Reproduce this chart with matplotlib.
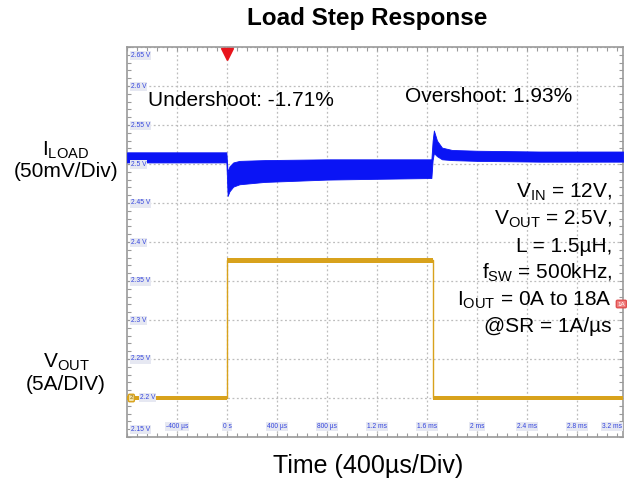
import matplotlib
matplotlib.use("Agg")
import matplotlib.pyplot as plt
from matplotlib.ticker import MultipleLocator

plt.rcParams['font.family'] = ['Liberation Sans', 'DejaVu Sans']
plt.rcParams['mathtext.fontset'] = 'custom'
plt.rcParams['mathtext.rm'] = 'Liberation Sans'
plt.rcParams['mathtext.it'] = 'Liberation Sans'

# ---- data (time in ms, voltage in V on the scope grid) ----
blue_t = [-0.80, -0.005, 0.005, 0.02, 0.05, 0.10, 0.30, 0.80, 1.20, 1.635,
          1.645, 1.655, 1.68, 1.72, 1.80, 2.00, 2.50, 3.17]
blue_hi = [2.515, 2.515, 2.490, 2.497, 2.502, 2.504, 2.505, 2.506, 2.506, 2.506,
           2.530, 2.543, 2.530, 2.521, 2.518, 2.517, 2.516, 2.516]
blue_lo = [2.502, 2.502, 2.459, 2.465, 2.471, 2.474, 2.477, 2.480, 2.481, 2.482,
           2.505, 2.514, 2.510, 2.506, 2.505, 2.504, 2.503, 2.503]

yel_t = [-0.80, 0.0, 0.0, 1.648, 1.648, 3.17]
yel_v = [2.200, 2.200, 2.377, 2.377, 2.200, 2.200]
yel_hi = [2.203, 2.203, 2.380, 2.380, 2.203, 2.203]
yel_lo = [2.198, 2.198, 2.373, 2.373, 2.198, 2.198]

ytick_vals = [2.65, 2.6, 2.55, 2.5, 2.45, 2.4, 2.35, 2.3, 2.25, 2.2, 2.15]
ytick_labels = ["2.65 V", "2.6 V", "2.55 V", "2.5 V", "2.45 V", "2.4 V",
                "2.35 V", "2.3 V", "2.25 V", "2.2 V", "2.15 V"]
xtick_vals = [-0.4, 0.0, 0.4, 0.8, 1.2, 1.6, 2.0, 2.4, 2.8, 3.2]
xtick_labels = ["-400 µs", "0 s", "400 µs", "800 µs", "1.2 ms", "1.6 ms",
                "2 ms", "2.4 ms", "2.8 ms", "3.2 ms"]

W, H = 627, 484
fig = plt.figure(figsize=(W / 100, H / 100), dpi=100)
L, R, T, B = 127, 623, 47, 437
ax = fig.add_axes([L / W, 1 - B / H, (R - L) / W, (B - T) / H])
ax.set_xlim(-0.8, 3.168)
ax.set_ylim(2.15, 2.65)

# grid
for xv in xtick_vals:
    ax.axvline(xv, color='#BDBDBD', lw=0.9, ls=(0, (1.5, 2)), zorder=0)
for yv in ytick_vals:
    ax.axhline(yv, color='#BDBDBD', lw=0.9, ls=(0, (1.5, 2)), zorder=0)

# traces
blue = '#0A14F5'
yellow = '#D8A21C'
ax.fill_between(blue_t, blue_lo, blue_hi, color=blue, lw=0.6, edgecolor=blue, zorder=3)
ax.fill_between(yel_t, yel_lo, yel_hi, color=yellow, lw=0, zorder=3)
ax.plot(yel_t, yel_v, color=yellow, lw=1.0, zorder=3)

# frame & minor ticks
for s in ax.spines.values():
    s.set_color('#9A9A9A')
    s.set_linewidth(1.2)
ax.set_xticks([])
ax.set_yticks([])
ax.xaxis.set_minor_locator(MultipleLocator(0.08))
ax.yaxis.set_minor_locator(MultipleLocator(0.01))
ax.tick_params(which='minor', direction='in', length=3, width=0.8, color='#9A9A9A',
               top=True, right=True, bottom=True, left=True)

# scope-style tick labels inside the plot
box = dict(boxstyle='square,pad=0.15', fc='#E6E8F2', ec='none')
for v, s in zip(ytick_vals, ytick_labels):
    yy = v
    xx = -0.77
    if v >= 2.649:
        yy = v - 0.011
    elif v <= 2.151:
        yy = v + 0.009
    elif abs(v - 2.2) < 1e-6:
        xx = -0.70
    ax.text(xx, yy, s, fontsize=4.8, color='#3344DD', va='center', ha='left',
            bbox=box, zorder=5)
for v, s in zip(xtick_vals, xtick_labels):
    xx = v if v < 3.1 else 3.08
    ax.text(xx, 2.163, s, fontsize=4.8, color='#3344DD', va='center', ha='center',
            bbox=box, zorder=5)

# trigger marker & channel markers
ax.plot([0], [2.641], marker='v', color='#E8141C', markersize=8, clip_on=False, zorder=6)
ax.text(3.155, 2.3205, '1A', fontsize=4.5, color='white', ha='center', va='center',
        bbox=dict(boxstyle='round,pad=0.2', fc='#F07C7C', ec='#E05050'), zorder=6)
ax.text(-0.765, 2.2, '2', fontsize=4.5, color='#8A6A10', ha='center', va='center',
        bbox=dict(boxstyle='round,pad=0.2', fc='#F3E2A8', ec=yellow), zorder=6)


def ft(x, y, s, **kw):
    fig.text(x / W, 1 - y / H, s, **kw)


ft(367, 19, 'Load Step Response', fontsize=17.5, fontweight='bold', ha='center', va='center')
ft(368, 466, 'Time (400µs/Div)', fontsize=18, ha='center', va='center')

ft(66, 150, r'I$_{\mathrm{LOAD}}$', fontsize=15, ha='center', va='center')
ft(66, 172, '(50mV/Div)', fontsize=15, ha='center', va='center')
ft(66, 362, r'V$_{\mathrm{OUT}}$', fontsize=15, ha='center', va='center')
ft(66, 384, '(5A/DIV)', fontsize=15, ha='center', va='center')

ft(148, 101, 'Undershoot: -1.71%', fontsize=15, ha='left', va='center')
ft(405, 96, 'Overshoot: 1.93%', fontsize=15, ha='left', va='center')

right_lines = [r'V$_{\mathrm{IN}}$ = 12V,', r'V$_{\mathrm{OUT}}$ = 2.5V,', 'L = 1.5µH,',
               r'f$_{\mathrm{SW}}$ = 500kHz,', r'I$_{\mathrm{OUT}}$ = 0A to 18A',
               '@SR = 1A/µs']
for i, s in enumerate(right_lines):
    ft(612, 192 + 27 * i, s, fontsize=15, ha='right', va='center')

fig.savefig('out.png', dpi=100)
